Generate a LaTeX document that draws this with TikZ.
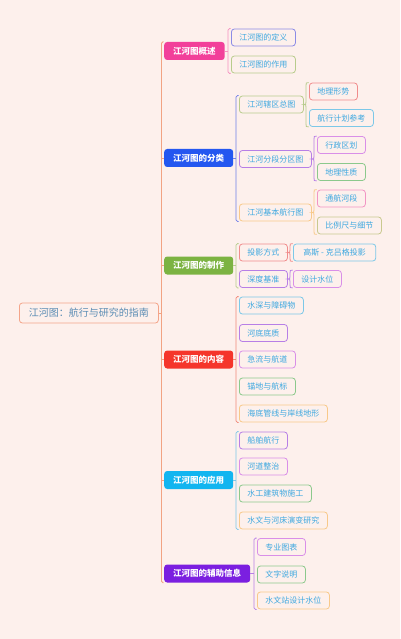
\documentclass[tikz,border=0pt]{standalone}
\usepackage{fontspec}
\newfontfamily\cjk{Noto Sans CJK SC}
\usetikzlibrary{calc}
\definecolor{bg}{HTML}{FDF0EC}
\definecolor{trunk}{HTML}{F2A383}
\definecolor{rootbd}{HTML}{F4A58A}
\definecolor{roottx}{HTML}{5A8CB4}
\definecolor{ctx}{HTML}{3EA8E0}
\definecolor{fpink}{HTML}{F2409A}
\definecolor{fblue}{HTML}{2457F0}
\definecolor{fgreen}{HTML}{7CB342}
\definecolor{fred}{HTML}{F5352B}
\definecolor{fcyan}{HTML}{12B5F0}
\definecolor{fpurple}{HTML}{7B1FE0}
\definecolor{bpink}{HTML}{F590C0}
\definecolor{bblue}{HTML}{6F7FE8}
\definecolor{bsalmon}{HTML}{F08878}
\definecolor{blav}{HTML}{8C8CE6}
\definecolor{bkhaki}{HTML}{B8CC8C}
\definecolor{bred}{HTML}{F08C8C}
\definecolor{bltblue}{HTML}{7CC8E8}
\definecolor{bpurple}{HTML}{B77FE6}
\definecolor{bviolet}{HTML}{D98FE8}
\definecolor{bgreen}{HTML}{8CC98C}
\definecolor{borange}{HTML}{F8C98A}
\definecolor{bpk}{HTML}{F295C4}
\definecolor{bolive}{HTML}{C9C98F}
\tikzset{
  rootbox/.style={draw=rootbd, fill=bg, line width=0.8pt, rounded corners=3pt, inner xsep=9.5pt, inner ysep=0pt, minimum height=20pt, font=\cjk\fontsize{10}{12}\selectfont, text=roottx, anchor=west},
  catbox/.style={fill=#1, rounded corners=3pt, inner xsep=9pt, inner ysep=0pt, minimum height=18pt, font=\cjk\bfseries\fontsize{8.5}{10}\selectfont, text=white, anchor=west},
  leaf/.style={draw=#1, fill=bg, line width=0.8pt, rounded corners=3pt, inner xsep=8pt, inner ysep=0pt, minimum height=17pt, font=\cjk\fontsize{8}{10}\selectfont, text=ctx, anchor=west},
  lnk/.style={line width=0.8pt, draw=#1},
}
\newcommand{\bkt}[4]{\draw[lnk=#1, rounded corners=1.5pt] let \p1=(#3.north west), \p2=(#4.south west), \p3=(#2.east) in
  (\x1-0.3pt,\y1) -- (\x1-3pt,\y1) -- (\x1-3pt,\y2) -- (\x1-0.3pt,\y2);
  \draw[lnk=#1] let \p1=(#3.north west), \p3=(#2.east) in (\p3) -- (\x1-3pt,\y3);}
\newcommand{\brc}[4]{\draw[lnk=#1] let \p1=(#3.north west), \p2=(#4.south west), \p3=(#2.east) in
  (\x1-0.3pt,\y1) .. controls (\x1-3pt,\y1) .. (\x1-3pt,\y1-3pt) -- (\x1-3pt,\y3+3pt)
  .. controls (\x1-3pt,\y3) .. (\x1-5.5pt,\y3) .. controls (\x1-3pt,\y3) .. (\x1-3pt,\y3-3pt)
  -- (\x1-3pt,\y2+3pt) .. controls (\x1-3pt,\y2) .. (\x1-0.3pt,\y2)
  (\p3) -- (\x1-5.5pt,\y3);}
\begin{document}
\begin{tikzpicture}[x=1pt,y=-1pt]
\fill[bg] (0,0) rectangle (400,639);
\useasboundingbox (0,0) rectangle (400,639);
% root
\node[rootbox] (root) at (19,313) {江河图：航行与研究的指南};
% categories
\node[catbox=fpink] (c1) at (164,51) {江河图概述};
\node[catbox=fblue] (c2) at (164,158) {江河图的分类};
\node[catbox=fgreen] (c3) at (164,265.5) {江河图的制作};
\node[catbox=fred] (c4) at (164,359.5) {江河图的内容};
\node[catbox=fcyan] (c5) at (164,480) {江河图的应用};
\node[catbox=fpurple] (c6) at (164,573.5) {江河图的辅助信息};
% trunk
\draw[lnk=trunk, rounded corners=1.5pt] let \p1=(c1.north west), \p2=(c6.south west) in
  (\x1-0.3pt,\y1) -- (\x1-2.5pt,\y1) -- (\x1-2.5pt,\y2) -- (\x1-0.3pt,\y2);
\foreach \c in {c2,c3,c4,c5}{\draw[lnk=trunk] (\c.west) -- ++(-2.5,0);}
\draw[lnk=trunk] let \p1=(c1.north west) in (root.east) -- (\x1-2.5pt,\y1|-root.east);
% c1 children
\node[leaf=blav] (a1) at (231,37.5) {江河图的定义};
\node[leaf=bkhaki] (a2) at (231,64.5) {江河图的作用};
\bkt{bpink}{c1}{a1}{a2}
% c2 children
\node[leaf=bkhaki] (b1) at (239,104.5) {江河辖区总图};
\node[leaf=bpurple] (b2) at (239,159) {江河分段分区图};
\node[leaf=borange] (b3) at (239,212.5) {江河基本航行图};
\bkt{bblue}{c2}{b1}{b3}
\node[leaf=bred] (b11) at (309,91.5) {地理形势};
\node[leaf=bltblue] (b12) at (309,118) {航行计划参考};
\brc{bkhaki}{b1}{b11}{b12}
\node[leaf=bviolet] (b21) at (317,145) {行政区划};
\node[leaf=bgreen] (b22) at (317,172) {地理性质};
\brc{bpurple}{b2}{b21}{b22}
\node[leaf=bpk] (b31) at (317,198.5) {通航河段};
\node[leaf=bolive] (b32) at (317,225.5) {比例尺与细节};
\brc{borange}{b3}{b31}{b32}
% c3 children
\node[leaf=bred] (d1) at (239,252.5) {投影方式};
\node[leaf=bpurple] (d2) at (239,279) {深度基准};
\bkt{bkhaki}{c3}{d1}{d2}
\node[leaf=bltblue, inner xsep=10pt] (d11) at (293,252.5) {高斯 - 克吕格投影};
\brc{bred}{d1}{d11}{d11}
\node[leaf=bviolet] (d21) at (293,279) {设计水位};
\brc{bpurple}{d2}{d21}{d21}
% c4 children
\node[leaf=bltblue] (e1) at (239,305.5) {水深与障碍物};
\node[leaf=bpurple] (e2) at (239,333) {河底底质};
\node[leaf=bviolet] (e3) at (239,359.5) {急流与航道};
\node[leaf=bgreen] (e4) at (239,386.5) {锚地与航标};
\node[leaf=borange] (e5) at (239,413.5) {海底管线与岸线地形};
\bkt{bsalmon}{c4}{e1}{e5}
% c5 children
\node[leaf=bpurple] (f1) at (239,440.5) {船舶航行};
\node[leaf=bviolet] (f2) at (239,466.5) {河道整治};
\node[leaf=bgreen] (f3) at (239,493.5) {水工建筑物施工};
\node[leaf=borange] (f4) at (239,520.5) {水文与河床演变研究};
\bkt{bltblue}{c5}{f1}{f4}
% c6 children
\node[leaf=bviolet] (g1) at (257,547) {专业图表};
\node[leaf=bgreen] (g2) at (257,574.5) {文字说明};
\node[leaf=borange] (g3) at (257,600.5) {水文站设计水位};
\bkt{bpurple}{c6}{g1}{g3}
\end{tikzpicture}
\end{document}
